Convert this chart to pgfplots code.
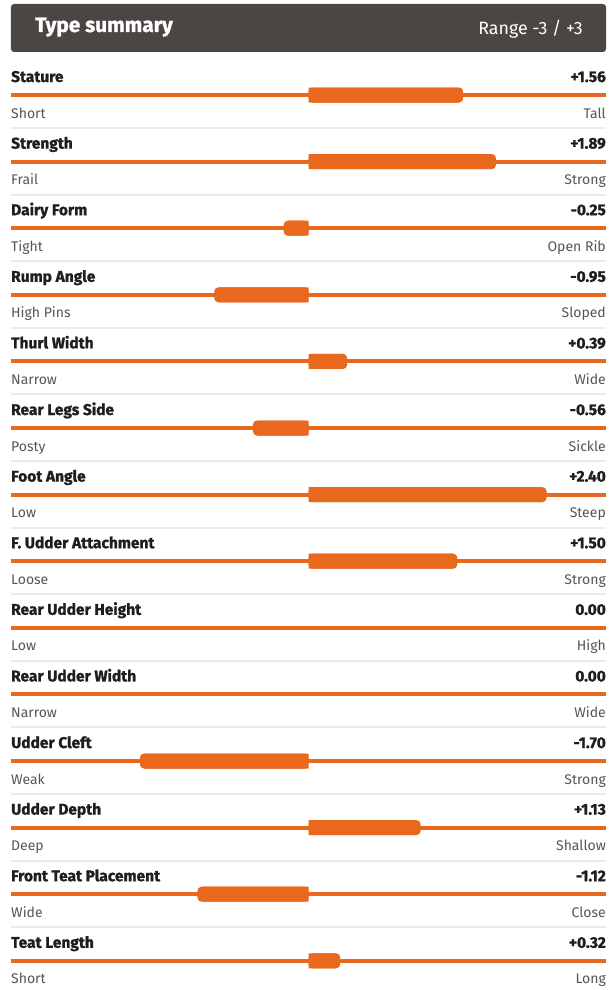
\documentclass[border=0pt]{standalone}
\usepackage{fontspec}
\setmainfont{Fira Sans}[BoldFeatures={FakeBold=1.2}]
\usepackage{pgfplots}
\usepackage{pgfplotstable}
\pgfplotsset{compat=1.18}
\definecolor{bar}{HTML}{E8691E}
\definecolor{hdr}{HTML}{4B4643}
\definecolor{sep}{HTML}{EBEBEB}
\definecolor{lab}{HTML}{1E1E1E}
\definecolor{sub}{HTML}{555555}

\pgfplotstableread{
y v
95 1.56
161.6 1.89
228.2 -0.25
294.8 -0.95
361.4 0.39
428 -0.56
494.6 2.40
561.2 1.50
627.8 0.00
694.4 0.00
761 -1.70
827.6 1.13
894.2 -1.12
960.8 0.32
}\bars

\newcommand{\trait}[5]{%
  \draw[bar, line width=4pt] (axis cs:-3,#1) -- (axis cs:3,#1);
  \node[anchor=base west, inner sep=0pt, text=lab, font=\fontsize{15.5}{17}\selectfont\bfseries] at (axis cs:-3,#1-13) {#2};
  \node[anchor=base east, inner sep=0pt, text=lab, font=\fontsize{15.5}{17}\selectfont\bfseries] at (axis cs:3,#1-13) {#3};
  \node[anchor=base west, inner sep=0pt, text=sub, font=\fontsize{14}{16}\selectfont] at (axis cs:-3,#1+23) {#4};
  \node[anchor=base east, inner sep=0pt, text=sub, font=\fontsize{14}{16}\selectfont] at (axis cs:3,#1+23) {#5};
}
\newcommand{\sepline}[1]{\draw[sep, line width=2pt] (axis cs:-3,#1+33) -- (axis cs:3,#1+33);}

\begin{document}
\begin{tikzpicture}
\begin{axis}[width=614pt, height=990pt, scale only axis,
  xmin=-3.11092, xmax=3.08067, ymin=0, ymax=990, y dir=reverse,
  hide axis, clip=false]
\fill[hdr, rounded corners=3pt] (axis cs:-3,4) rectangle (axis cs:3,52);
\node[anchor=base west, inner sep=0pt, text=white, font=\fontsize{20.8}{22}\selectfont\bfseries] at (axis cs:-2.758,32) {Type summary};
\node[anchor=base east, inner sep=0pt, text=white, font=\fontsize{17.8}{19}\selectfont] at (axis cs:2.768,35) {Range -3 / +3};

\trait{95}{Stature}{+1.56}{Short}{Tall}\sepline{95}
\trait{161.6}{Strength}{+1.89}{Frail}{Strong}\sepline{161.6}
\trait{228.2}{Dairy Form}{-0.25}{Tight}{Open Rib}\sepline{228.2}
\trait{294.8}{Rump Angle}{-0.95}{High Pins}{Sloped}\sepline{294.8}
\trait{361.4}{Thurl Width}{+0.39}{Narrow}{Wide}\sepline{361.4}
\trait{428}{Rear Legs Side}{-0.56}{Posty}{Sickle}\sepline{428}
\trait{494.6}{Foot Angle}{+2.40}{Low}{Steep}\sepline{494.6}
\trait{561.2}{F. Udder Attachment}{+1.50}{Loose}{Strong}\sepline{561.2}
\trait{627.8}{Rear Udder Height}{0.00}{Low}{High}\sepline{627.8}
\trait{694.4}{Rear Udder Width}{0.00}{Narrow}{Wide}\sepline{694.4}
\trait{761}{Udder Cleft}{-1.70}{Weak}{Strong}\sepline{761}
\trait{827.6}{Udder Depth}{+1.13}{Deep}{Shallow}\sepline{827.6}
\trait{894.2}{Front Teat Placement}{-1.12}{Wide}{Close}\sepline{894.2}
\trait{960.8}{Teat Length}{+0.32}{Short}{Long}

\addplot[xbar, bar width=15pt, bar shift=0pt, fill=bar, draw=none, rounded corners=4pt,
  skip coords between index={8}{10}] table[x=v, y=y] {\bars};
\addplot[xbar, bar width=15pt, bar shift=0pt, fill=bar, draw=none,
  skip coords between index={8}{10}]
  table[x expr={ifthenelse(\thisrow{v}>0, \thisrow{v}-0.045, \thisrow{v}+0.045)}, y=y] {\bars};
\end{axis}
\path (current axis.south west) rectangle (current axis.north east);
\end{tikzpicture}
\end{document}
